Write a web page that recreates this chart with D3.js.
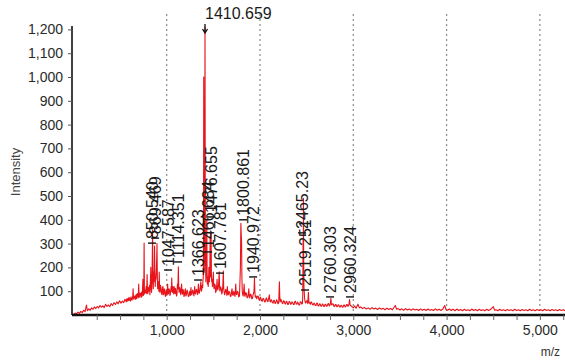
<!DOCTYPE html>
<html><head><meta charset="utf-8">
<script src="https://cdn.jsdelivr.net/npm/d3@7"></script>
<style>
html,body{margin:0;padding:0;background:#fff;}
svg{display:block;font-family:"Liberation Sans",Arial,sans-serif;}
</style></head>
<body>
<svg id="c" width="565" height="363"></svg>
<script>
// ---- data ----
const spectrum = [[-10,0],[5,4],[20,8],[35,5],[50,12],[65,7],[80,15],[95,10],[110,20],[125,14],[140,42],[150,18],[165,26],[180,20],[195,30],[210,24],[225,34],[240,27],[255,36],[270,30],[285,40],[300,33],[315,38],[330,31],[345,45],[360,36],[375,42],[390,35],[405,48],[420,40],[435,52],[450,44],[465,55],[480,47],[495,60],[510,50],[525,58],[540,52],[552,66],
[560,62],[565,55],[572,68],[578,58],[585,70],[590,60],[596,74],[600,62],[606,70],[612,58],[618,76],[624,64],[630,63],[636,80],[640,110],[644,70],[648,66],[654,78],[660,80],[666,66],[672,86],[678,68],[684,90],[690,85],[695,72],[700,130],[704,80],[708,75],[714,92],[720,90],[726,74],[731,96],[735,78],[740,100],[745,150],[749,82],[752,85],[755,120],[758,302],[761,110],[764,88],[769,105],[775,95],[780,120],[785,90],[790,170],[794,100],[798,90],[804,115],[810,100],[815,125],[820,85],[825,140],[830,200],[834,110],[838,95],[843,150],[849,357],[852,160],[856,110],[860,180],[863,140],[867,200],[870,290],[874,170],[877,120],[881,160],[885,150],[890,190],[893,240],[896,300],[900,150],[903,110],[908,140],[912,130],[916,100],[920,180],[924,110],[928,95],[934,125],[940,110],[945,90],[950,85],[955,115],[960,120],[965,85],[970,90],[975,110],[980,100],[985,78],[990,80],[995,105],[1000,95],[1005,85],[1010,130],[1014,95],[1018,88],[1024,110],[1030,105],[1035,82],[1040,90],[1047,120],[1050,100],[1054,155],[1058,110],[1062,95],[1066,120],[1070,110],[1075,88],[1080,120],[1085,95],[1090,90],[1095,112],[1100,100],[1105,80],[1110,85],[1115,130],[1120,110],[1125,202],[1129,120],[1133,95],[1139,115],[1145,105],[1150,85],[1155,110],[1160,130],[1165,90],[1170,88],[1175,108],[1180,100],[1185,78],[1190,82],[1195,100],[1200,110],[1206,80],[1212,85],[1218,105],[1225,95],[1232,78],[1240,80],[1245,98],[1250,100],[1255,82],[1260,115],[1265,90],[1270,85],[1278,105],[1285,95],[1292,80],[1300,120],[1305,92],[1310,88],[1318,108],[1325,100],[1332,85],[1340,130],[1345,95],[1350,92],[1358,110],[1366,140],[1370,105],[1374,100],[1380,125],[1385,115],[1388,140],[1392,160],[1395,300],[1397,1000],[1399,400],[1402,180],[1404,220],[1406,300],[1408,500],[1410.66,1210],[1413,600],[1415,250],[1418,180],[1420,140],[1425,200],[1430,400],[1433,180],[1436,130],[1440,160],[1445,120],[1449,150],[1452,200],[1455,160],[1458,140],[1462,180],[1466,330],[1469,200],[1471,160],[1474,220],[1476,350],[1479,180],[1482,140],[1486,150],[1490,120],[1495,140],[1500,180],[1504,120],[1508,110],[1514,130],[1520,125],[1525,95],[1530,100],[1535,120],[1540,150],[1544,110],[1548,105],[1555,120],[1563,182],[1567,115],[1571,100],[1578,118],[1585,110],[1590,88],[1595,95],[1601,120],[1607,185],[1611,110],[1615,100],[1620,85],[1625,90],[1632,108],[1640,100],[1645,82],[1650,120],[1655,90],[1660,85],[1668,100],[1675,95],[1682,78],[1690,80],[1695,98],[1700,110],[1706,85],[1712,82],[1718,100],[1725,90],[1732,78],[1740,130],[1745,90],[1750,85],[1758,100],[1765,95],[1772,76],[1780,80],[1786,150],[1790,200],[1795,385],[1799,340],[1803,300],[1806,160],[1810,100],[1815,85],[1820,80],[1825,100],[1830,130],[1835,85],[1840,78],[1848,95],[1855,90],[1862,72],[1870,75],[1875,90],[1880,110],[1885,80],[1890,72],[1898,88],[1905,85],[1912,68],[1920,70],[1925,85],[1930,90],[1936,100],[1941,155],[1945,95],[1950,75],[1958,80],[1965,68],[1972,78],[1980,80],[1988,65],[1995,62],[2002,75],[2010,70],[2018,60],[2025,58],[2032,70],[2040,68],[2048,56],[2055,55],[2062,66],[2070,72],[2078,58],[2085,56],[2092,68],[2100,85],[2106,60],[2112,55],[2118,64],
[2125,62],[2132,52],[2140,50],[2148,62],[2155,60],[2162,48],[2170,52],[2178,64],[2185,58],[2192,47],[2200,50],[2204,90],[2208,140],[2212,80],[2216,55],[2223,66],[2230,60],[2238,50],[2245,48],[2252,60],[2260,58],[2268,47],[2275,46],[2282,58],[2290,55],[2298,44],[2305,45],[2312,57],[2320,56],[2328,45],[2335,47],[2342,55],[2350,52],[2358,44],[2365,44],[2372,56],[2380,58],[2388,46],[2395,45],[2402,54],[2410,50],[2418,42],[2425,42],[2432,56],[2440,55],[2448,46],[2455,48],[2459,90],[2462,315],[2464,200],[2466,490],[2468,250],[2471,120],[2478,70],[2484,55],[2490,50],[2498,58],[2505,60],[2512,48],[2519,95],[2523,60],[2527,50],[2534,52],[2540,45],[2548,55],[2555,52],[2562,44],[2570,42],[2578,50],[2585,48],[2592,40],[2600,40],[2608,50],[2615,50],[2622,39],[2630,38],[2638,47],[2645,46],[2652,37],[2660,37],[2668,46],[2675,45],[2682,36],[2690,36],[2698,45],[2705,44],[2712,37],[2720,38],[2728,47],[2735,48],[2742,38],[2748,40],[2755,50],[2760,70],[2765,45],[2770,42],[2778,47],[2785,46],[2792,36],[2800,36],[2808,44],[2815,44],[2822,35],[2830,35],[2838,43],[2845,42],[2852,34],[2860,34],[2868,41],[2875,40],[2882,33],[2890,33],[2898,42],[2905,42],[2912,34],[2920,35],[2928,44],[2935,44],[2942,37],[2948,38],[2955,48],[2960,65],[2965,44],[2970,40],[2978,38],[2985,36],[2992,32],[3000,30],[3015,38],[3030,28],[3050,45],[3065,30],[3080,34],[3100,27],[3120,32],[3140,25],[3160,30],[3180,24],[3200,31],[3220,25],[3240,29],[3260,23],[3280,30],[3300,24],[3320,28],[3340,22],[3360,29],[3380,23],[3400,27],[3420,22],[3450,40],[3465,24],[3480,27],[3500,21],[3520,26],[3540,20],[3560,27],[3580,21],[3600,25],[3620,20],[3640,26],[3660,21],[3680,24],[3700,19],[3720,26],[3740,20],[3760,24],[3780,19],[3800,25],[3820,20],[3840,23],[3860,19],[3880,26],[3900,20],[3920,24],[3940,19],[3960,25],[3980,40],[3995,22],[4010,20],[4030,25],[4050,19],[4070,24],[4090,18],[4110,25],[4130,19],[4150,23],[4170,18],[4190,24],[4210,19],[4230,22],[4250,18],[4270,25],[4290,19],[4310,23],[4330,18],[4350,24],[4370,19],[4390,22],[4410,18],[4430,24],[4450,19],[4470,23],[4500,35],[4515,20],[4530,22],[4550,18],[4570,24],[4590,19],[4610,22],[4630,18],[4650,23],[4670,19],[4690,22],[4710,18],[4730,24],[4750,19],[4770,22],[4790,18],[4810,23],[4830,19],[4850,22],[4870,18],[4890,24],[4910,19],[4930,22],[4950,18],[4970,23],[4990,19],[5010,22],[5030,18],[5050,24],[5070,19],[5090,22],[5110,18],[5130,23],[5150,19],[5170,22],[5190,18],[5210,23],[5230,19],[5250,22],[5270,18],[5290,21]];

const labelText = ["850.540","869.469","1047.587","1114.351","1366.623","1466.684","1476.655","1607.781","1800.861","1940.972","2465.23","2519.251","2760.303","2960.324"];
const labelMz   = [843,876,1015,1122,1337,1444,1476,1572,1819,1926,2451,2483,2751,2965];
const labelInt  = [302,323,189,223,147,265,412,176,400,160,345,105,76,76];

const topLabel = "1410.659";
const topMz = 1410.66, topInt = 1210;

const yTicks = [100,200,300,400,500,600,700,800,900,1000,1100,1200];
const xMajor = [1000,2000,3000,4000,5000];
const xMinor = [250,500,750,1000,1250,1500,1750,2000,2250,2500,2750,3000,3250,3500,3750,4000,4250,4500,4750,5000,5250];
const yTitle = "Intensity";
const xTitle = "m/z";

// ---- drawing ----
const svg = d3.select("#c");
const x = d3.scaleLinear().domain([-15, 5280]).range([72, 566]);
const y = d3.scaleLinear().domain([0, 1200]).range([315, 29.4]);
const red = "#e8141c";

// dotted grid lines
svg.append("g").selectAll("line").data(xMajor).join("line")
  .attr("x1", d => x(d)).attr("x2", d => x(d))
  .attr("y1", 14).attr("y2", 313)
  .attr("stroke", "#8a8a8a").attr("stroke-width", 1.2)
  .attr("stroke-dasharray", "2,3");

// spectrum
svg.append("clipPath").attr("id","clip").append("rect")
  .attr("x", 73).attr("y", 0).attr("width", 500).attr("height", 315);
svg.append("path").datum(spectrum)
  .attr("clip-path","url(#clip)")
  .attr("fill","none").attr("stroke", red).attr("stroke-width", 1.1)
  .attr("stroke-linejoin","round")
  .attr("d", d3.line().x(d => x(d[0])).y(d => y(d[1])));

// y axis
const yAxis = d3.axisLeft(y).tickValues(yTicks).tickFormat(d3.format(",")).tickSize(4).tickPadding(5);
const gy = svg.append("g").attr("transform","translate(72,0)").call(yAxis);
gy.select(".domain").attr("d","M0,26V315").attr("stroke","#111").attr("stroke-width",1.6);
gy.selectAll(".tick line").attr("stroke","#555");
gy.selectAll(".tick text").attr("font-size",14).attr("fill","#2a2a2a")
  .attr("font-family","'Liberation Sans',Arial,sans-serif");

// x axis
const gx = svg.append("g").attr("transform","translate(0,315)");
gx.append("line").attr("x1",72).attr("x2",565).attr("y1",0).attr("y2",0)
  .attr("stroke","#111").attr("stroke-width",2.4);
const xAxisMinor = d3.axisBottom(x).tickValues(xMinor).tickFormat("").tickSize(5);
const gmin = gx.append("g").call(xAxisMinor);
gmin.select(".domain").remove();
gmin.selectAll(".tick line").attr("stroke","#666");
const xAxisMajor = d3.axisBottom(x).tickValues(xMajor).tickFormat(d3.format(",")).tickSize(0).tickPadding(10);
const gmaj = gx.append("g").call(xAxisMajor);
gmaj.select(".domain").remove();
gmaj.selectAll(".tick text").attr("font-size",14).attr("fill","#2a2a2a")
  .attr("font-family","'Liberation Sans',Arial,sans-serif");

// titles
svg.append("text").attr("transform","translate(20,172) rotate(-90)")
  .attr("text-anchor","middle").attr("font-size",13).attr("fill","#444").text(yTitle);
svg.append("text").attr("x",560).attr("y",356).attr("text-anchor","end")
  .attr("font-size",12).attr("fill","#333").text(xTitle);

// peak labels
const lg = svg.append("g");
labelText.forEach((t,i) => {
  const px = x(labelMz[i]), py = y(labelInt[i]);
  lg.append("line").attr("x1",px-4).attr("x2",px+4).attr("y1",py).attr("y2",py)
    .attr("stroke","#111").attr("stroke-width",1.4);
  lg.append("text").attr("transform",`translate(${px},${py-4}) rotate(-90)`)
    .attr("dominant-baseline","central").attr("font-size",16).attr("fill","#1a1a1a").text(t);
});

// top label with arrow marker
const tx = x(topMz), ty = y(topInt);
svg.append("path").attr("d",`M${tx},${ty-3}V${ty+6}M${tx-2.5},${ty+2}L${tx},${ty+6}L${tx+2.5},${ty+2}`)
  .attr("stroke","#111").attr("stroke-width",1.3).attr("fill","none");
svg.append("text").attr("x",tx).attr("y",19).attr("font-size",16).attr("fill","#1a1a1a").text(topLabel);
</script>
</body></html>
